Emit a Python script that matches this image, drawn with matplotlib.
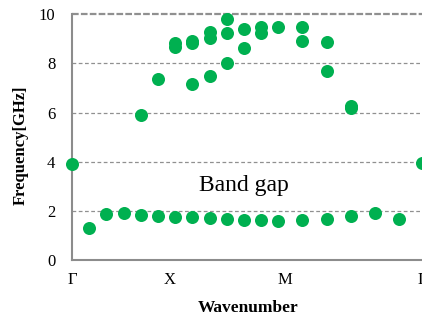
from matplotlib import pyplot as plt

# Wavenumber positions (arbitrary path units) and frequencies [GHz]
upper_k = [0, 4, 5, 6, 6, 7, 7, 7, 8, 8, 8, 9, 9, 9, 10, 10, 11, 11, 12,
           13.4, 13.4, 14.8, 14.8, 16.2, 16.2, 20.35]
upper_f = [3.93, 5.91, 7.35, 8.84, 8.67, 8.92, 8.81, 7.15, 9.28, 9.01, 7.49,
           9.80, 9.24, 8.03, 9.38, 8.63, 9.46, 9.22, 9.49,
           9.46, 8.92, 8.85, 7.70, 6.27, 6.18, 3.95]
lower_k = [1, 2, 3, 4, 5, 6, 7, 8, 9, 10, 11, 12, 13.4, 14.8, 16.2, 17.6, 19.0]
lower_f = [1.33, 1.89, 1.93, 1.83, 1.79, 1.77, 1.77, 1.72, 1.68, 1.64, 1.63,
           1.62, 1.63, 1.68, 1.79, 1.93, 1.68]

tick_pos = [0, 5.7, 12.35, 20.35]
tick_labels = ["Γ", "X", "M", "Γ"]

plt.rcParams['font.family'] = ['Liberation Serif', 'DejaVu Serif']

fig = plt.figure(figsize=(4.22, 3.2), dpi=100)
ax = fig.add_axes([0.1706, 0.186, 0.8294, 0.770])

green = "#00B050"
ax.scatter(upper_k, upper_f, s=88, color=green, zorder=3, clip_on=False, linewidths=0)
ax.scatter(lower_k, lower_f, s=88, color=green, zorder=3, clip_on=False, linewidths=0)

ax.set_xlim(0, 20.35)
ax.set_ylim(0, 10)
ax.set_yticks([0, 2, 4, 6, 8, 10])
ax.set_xticks(tick_pos)
ax.set_xticklabels(tick_labels)
ax.tick_params(length=0, labelsize=12, colors="black")
ax.tick_params(axis="x", pad=8)
ax.tick_params(axis="y", pad=12)

for y in [2, 4, 6, 8]:
    ax.axhline(y, color="#909090", lw=0.9, ls=(0, (3, 2)), zorder=1)
ax.axhline(10, color="#909090", lw=1.6, ls=(0, (3, 1)), zorder=1, clip_on=False)

for s in ["top", "right"]:
    ax.spines[s].set_visible(False)
for s in ["left", "bottom"]:
    ax.spines[s].set_color("#8c8c8c")
    ax.spines[s].set_linewidth(1.5)

ax.text(0.49, 0.305, "Band gap", transform=ax.transAxes, fontsize=17,
        ha="center", va="center")

fig.text(0.05, 0.547, "Frequency[GHz]", fontsize=12, fontweight="bold",
         rotation=90, ha="center", va="center")
fig.text(0.589, 0.037, "Wavenumber", fontsize=12.5, fontweight="bold",
         ha="center", va="center")

fig.savefig("out.png", dpi=100)
